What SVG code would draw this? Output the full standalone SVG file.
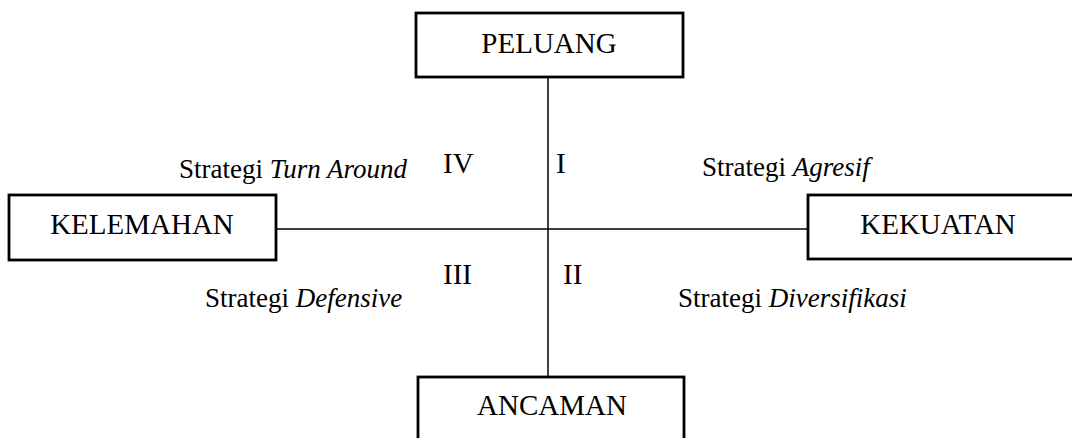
<svg xmlns="http://www.w3.org/2000/svg" width="1072" height="438" viewBox="0 0 1072 438">
<style>
.box{fill:#fff;stroke:#000;stroke-width:2.8}
.t{font-family:"Liberation Serif","Times New Roman",serif;fill:#000}
.bt{font-size:29px;text-anchor:middle}
.num{font-size:29px}
.lb{font-size:27px}
.it{font-style:italic}
.ln{stroke:#000;stroke-width:1.5;fill:none}
</style>
<rect width="1072" height="438" fill="#fff"/>
<g id="connectors">
<line class="ln" x1="548" y1="77" x2="548" y2="377"/>
<line class="ln" x1="276" y1="229" x2="808" y2="229"/>
</g>
<g id="peluang">
<rect class="box" x="416" y="13" width="267" height="64"/>
<text class="t bt" x="549" y="53">PELUANG</text>
</g>
<g id="kelemahan">
<rect class="box" x="9" y="195" width="267" height="65"/>
<text class="t bt" x="142" y="234">KELEMAHAN</text>
</g>
<g id="kekuatan">
<rect class="box" x="808" y="195" width="270" height="64"/>
<text class="t bt" x="938" y="234">KEKUATAN</text>
</g>
<g id="ancaman">
<rect class="box" x="418" y="377" width="266" height="70"/>
<text class="t bt" x="552" y="415">ANCAMAN</text>
</g>
<g id="labels">
<text class="t lb" x="179" y="178">Strategi <tspan class="it">Turn Around</tspan></text>
<text class="t num" x="443" y="173">IV</text>
<text class="t num" x="556" y="173">I</text>
<text class="t lb" x="702" y="176">Strategi <tspan class="it">Agresif</tspan></text>
<text class="t num" x="443" y="284">III</text>
<text class="t num" x="563" y="284">II</text>
<text class="t lb" x="205" y="307">Strategi <tspan class="it">Defensive</tspan></text>
<text class="t lb" x="678" y="307">Strategi <tspan class="it">Diversifikasi</tspan></text>
</g>
</svg>
